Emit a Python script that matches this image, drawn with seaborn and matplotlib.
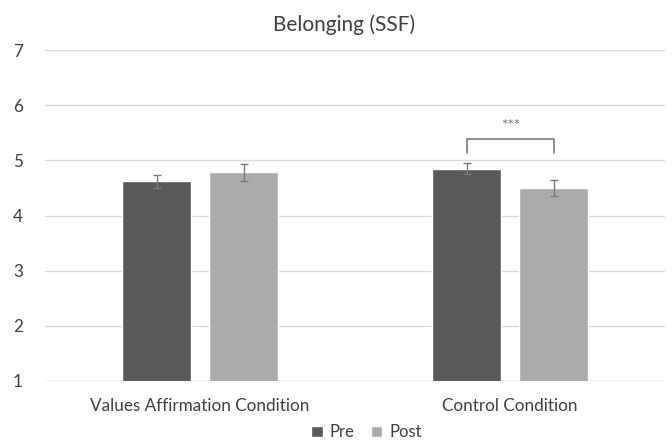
import matplotlib
matplotlib.use("Agg")
import matplotlib.pyplot as plt
import seaborn as sns
import pandas as pd

conditions = ["Values Affirmation Condition", "Control Condition"]
times = ["Pre", "Post"]
pre_means = [4.62, 4.85]
post_means = [4.78, 4.50]
pre_err = [0.12, 0.10]
post_err = [0.15, 0.14]
sig_label = "***"

df = pd.DataFrame({
    "Condition": conditions * 2,
    "Time": ["Pre"] * 2 + ["Post"] * 2,
    "Score": pre_means + post_means,
    "Err": pre_err + post_err,
})

sns.set_style("white")
plt.rcParams["font.family"] = ["Lato", "DejaVu Sans"]
text_col = "#404040"

fig = plt.figure(figsize=(6.72, 4.43), dpi=100)
ax = fig.add_axes([0.067, 0.14, 0.923, 0.747])

palette = {"Pre": "#595959", "Post": "#ababab"}
sns.barplot(data=df, x="Condition", y="Score", hue="Time", hue_order=times,
            palette=palette, width=0.56, gap=0.21, errorbar=None,
            saturation=1, ax=ax, zorder=3)

# error bars at the centre of each bar
for cont, t in zip(ax.containers, times):
    sub = df[df["Time"] == t].set_index("Condition").loc[conditions]
    xs = [p.get_x() + p.get_width() / 2 for p in cont.patches]
    ax.errorbar(xs, sub["Score"], yerr=sub["Err"], fmt="none",
                ecolor="#7a7a7a", elinewidth=1, capsize=3, capthick=1, zorder=4)

ax.set_ylim(1, 7)
ax.set_xlim(-0.5, 1.5)
ax.set_yticks(range(1, 8))
ax.yaxis.grid(True, color="#d9d9d9", linewidth=1, zorder=0)
ax.set_axisbelow(True)
sns.despine(ax=ax, left=True, bottom=True)
ax.axhline(1, color="#d0d0d0", linewidth=1, zorder=2)
ax.tick_params(axis="both", length=0, colors=text_col, labelsize=12.3)
ax.tick_params(axis="x", pad=12)
ax.tick_params(axis="y", pad=16)
ax.set_xlabel("")
ax.set_ylabel("")
ax.set_title("Belonging (SSF)", color=text_col, fontsize=15, pad=14,
             x=(344 - 45) / 620)

# significance bracket on the control condition
c_pre = ax.containers[0].patches[1]
c_post = ax.containers[1].patches[1]
x1 = c_pre.get_x() + c_pre.get_width() / 2
x2 = c_post.get_x() + c_post.get_width() / 2
ax.plot([x1, x1, x2, x2], [5.14, 5.39, 5.39, 5.14], color="#7a7a7a", linewidth=1.2, zorder=4)
ax.text((x1 + x2) / 2, 5.62, sig_label, ha="center", va="center", color="#7a7a7a", fontsize=11)

handles, labels = ax.get_legend_handles_labels()
ax.get_legend().remove()
fig.legend(handles, labels, loc="center", bbox_to_anchor=(0.545, 0.024), ncol=2,
           frameon=False, handlelength=0.7, handleheight=0.7, handletextpad=0.4,
           columnspacing=1.0, labelcolor=text_col, fontsize=12,
           borderpad=0)

fig.savefig("out.png", dpi=100)
